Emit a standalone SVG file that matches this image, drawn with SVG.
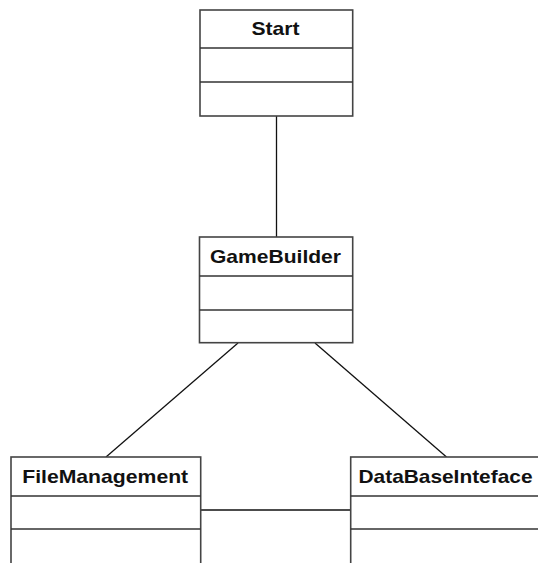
<svg xmlns="http://www.w3.org/2000/svg" width="538" height="563" viewBox="0 0 538 563">
<style>
.box{fill:#ffffff;stroke:#444444;stroke-width:1.6}
.div{stroke:#333333;stroke-width:1.6}
.conn{stroke:#111111;stroke-width:1.3;fill:none}
.t{font-family:"Liberation Sans",Arial,sans-serif;font-weight:bold;font-size:19px;fill:#111111;text-anchor:middle}
</style>
<rect width="538" height="563" fill="#ffffff"/>
<g id="connectors">
<line class="conn" x1="276.5" y1="116" x2="276.5" y2="237"/>
<line class="conn" x1="238" y1="343" x2="106" y2="457"/>
<line class="conn" x1="315" y1="343" x2="446.5" y2="457"/>
<line class="conn" x1="200.7" y1="510" x2="350.7" y2="510"/>
</g>
<g id="Start">
<rect class="box" x="200" y="10" width="152.7" height="106"/>
<line class="div" x1="200" y1="48" x2="352.7" y2="48"/>
<line class="div" x1="200" y1="82" x2="352.7" y2="82"/>
<text class="t" x="275.5" y="35" textLength="48" lengthAdjust="spacingAndGlyphs">Start</text>
</g>
<g id="GameBuilder">
<rect class="box" x="199.5" y="237" width="153.2" height="105.7"/>
<line class="div" x1="199.5" y1="276" x2="352.7" y2="276"/>
<line class="div" x1="199.5" y1="310" x2="352.7" y2="310"/>
<text class="t" x="275.5" y="263" textLength="131" lengthAdjust="spacingAndGlyphs">GameBuilder</text>
</g>
<g id="FileManagement">
<rect class="box" x="11" y="457" width="189.7" height="120"/>
<line class="div" x1="11" y1="496" x2="200.7" y2="496"/>
<line class="div" x1="11" y1="529" x2="200.7" y2="529"/>
<text class="t" x="105.2" y="483" textLength="166" lengthAdjust="spacingAndGlyphs">FileManagement</text>
</g>
<g id="DataBaseInteface">
<rect class="box" x="350.7" y="457" width="190" height="120"/>
<line class="div" x1="350.7" y1="496" x2="540.7" y2="496"/>
<line class="div" x1="350.7" y1="529" x2="540.7" y2="529"/>
<text class="t" x="445.5" y="483" textLength="174" lengthAdjust="spacingAndGlyphs">DataBaseInteface</text>
</g>
</svg>
